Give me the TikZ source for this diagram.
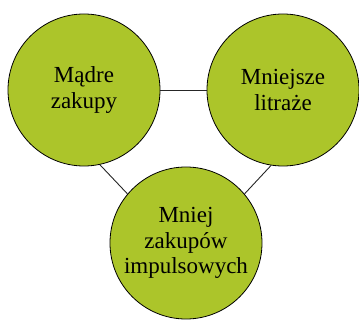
\documentclass[tikz,border=0pt]{standalone}
\usepackage{fontspec}
\setmainfont{Liberation Serif}
\definecolor{olivefill}{RGB}{172,197,42}
\tikzset{
  bubble/.style={circle, draw=black, line width=0.8pt, fill=olivefill, minimum size=152pt, inner sep=0pt, align=center, font=\fontsize{23}{25.5}\selectfont},
  link/.style={draw=black!85, line width=0.9pt}
}
\begin{document}
\begin{tikzpicture}[x=1pt,y=-1pt]
\useasboundingbox (0,0) rectangle (359,320);
\node[bubble] (L) at (84,90) {Mądre\\zakupy};
\node[bubble] (R) at (283,90) {Mniejsze\\litraże};
\node[bubble] (B) at (186,243) {Mniej\\zakupów\\impulsowych};
\draw[link] (L.0) -- (R.180);
\draw[link] (L.-78) -- (B.140);
\draw[link] (R.-99) -- (B.40);
\end{tikzpicture}
\end{document}
